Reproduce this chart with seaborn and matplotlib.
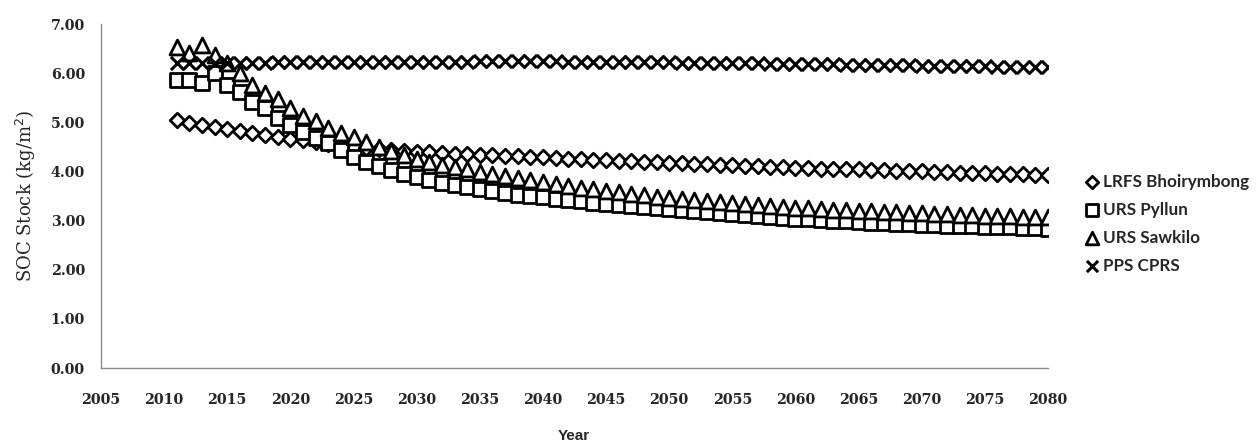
import matplotlib
matplotlib.use("Agg")
import matplotlib.pyplot as plt
import seaborn as sns
import pandas as pd

years = list(range(2011, 2081))

lrfs_bhoirymbong = [5.05, 4.98, 4.95, 4.90, 4.86, 4.82, 4.78, 4.74, 4.70, 4.67,
                    4.64, 4.60, 4.56, 4.52, 4.49, 4.47, 4.45, 4.43, 4.42, 4.40,
                    4.39, 4.37, 4.36, 4.35, 4.34, 4.33, 4.32, 4.31, 4.30, 4.29,
                    4.28, 4.26, 4.25, 4.24, 4.23, 4.22, 4.21, 4.20, 4.19, 4.18,
                    4.17, 4.16, 4.15, 4.14, 4.13, 4.12, 4.11, 4.10, 4.09, 4.08,
                    4.07, 4.06, 4.05, 4.05, 4.04, 4.03, 4.02, 4.01, 4.00, 4.00,
                    3.99, 3.98, 3.97, 3.97, 3.96, 3.95, 3.95, 3.94, 3.93, 3.93]

urs_pyllun = [5.86, 5.86, 5.80, 6.00, 5.76, 5.62, 5.41, 5.29, 5.09, 4.95,
              4.80, 4.68, 4.58, 4.44, 4.30, 4.20, 4.11, 4.03, 3.95, 3.88,
              3.82, 3.77, 3.72, 3.68, 3.64, 3.60, 3.57, 3.53, 3.50, 3.47,
              3.44, 3.41, 3.39, 3.36, 3.34, 3.32, 3.30, 3.28, 3.26, 3.24,
              3.22, 3.20, 3.18, 3.16, 3.14, 3.12, 3.10, 3.08, 3.06, 3.04,
              3.03, 3.01, 3.00, 2.99, 2.97, 2.96, 2.95, 2.94, 2.93, 2.92,
              2.91, 2.90, 2.89, 2.88, 2.87, 2.86, 2.86, 2.85, 2.84, 2.83]

urs_sawkilo = [6.53, 6.41, 6.57, 6.37, 6.20, 6.00, 5.76, 5.60, 5.47, 5.29,
               5.13, 5.03, 4.88, 4.78, 4.70, 4.60, 4.50, 4.42, 4.34, 4.26,
               4.20, 4.14, 4.09, 4.04, 3.99, 3.94, 3.90, 3.86, 3.82, 3.78,
               3.74, 3.70, 3.67, 3.64, 3.61, 3.58, 3.55, 3.52, 3.49, 3.46,
               3.44, 3.42, 3.40, 3.38, 3.36, 3.34, 3.32, 3.30, 3.28, 3.26,
               3.25, 3.24, 3.22, 3.21, 3.20, 3.19, 3.18, 3.17, 3.16, 3.15,
               3.14, 3.13, 3.12, 3.11, 3.10, 3.09, 3.09, 3.08, 3.08, 3.07]

pps_cprs = [6.20, 6.20, 6.20, 6.21, 6.21, 6.21, 6.21, 6.21, 6.22, 6.22,
            6.22, 6.22, 6.22, 6.22, 6.22, 6.22, 6.23, 6.23, 6.23, 6.23,
            6.23, 6.23, 6.23, 6.23, 6.24, 6.24, 6.24, 6.24, 6.24, 6.24,
            6.24, 6.23, 6.23, 6.23, 6.23, 6.23, 6.22, 6.22, 6.22, 6.22,
            6.21, 6.21, 6.21, 6.21, 6.20, 6.20, 6.20, 6.19, 6.19, 6.19,
            6.18, 6.18, 6.18, 6.17, 6.17, 6.17, 6.16, 6.16, 6.16, 6.15,
            6.15, 6.15, 6.14, 6.14, 6.14, 6.13, 6.13, 6.13, 6.12, 6.12]

series_names = ["LRFS Bhoirymbong", "URS Pyllun", "URS Sawkilo", "PPS CPRS"]
x_ticks = list(range(2005, 2081, 5))
y_ticks = [0, 1, 2, 3, 4, 5, 6, 7]

sns.set_theme(style="white")
plt.rcParams['font.family'] = ['DejaVu Sans']

fig = plt.figure(figsize=(12.59, 4.45), dpi=100)
ax = fig.add_axes([0.0802, 0.173, 0.7522, 0.773])

data = [lrfs_bhoirymbong, urs_pyllun, urs_sawkilo, pps_cprs]
markers = ["D", "s", "^", "x"]
sizes = [55, 105, 115, 90]

for name, vals, m, s in zip(series_names, data, markers, sizes):
    df = pd.DataFrame({"Year": years, "SOC": vals})
    if m == "x":
        sns.scatterplot(data=df, x="Year", y="SOC", marker=m, s=s, color="black",
                        linewidth=2.2, ax=ax, label=name, zorder=3)
    else:
        sns.scatterplot(data=df, x="Year", y="SOC", marker=m, s=s, facecolor="white",
                        edgecolor="black", linewidth=2.0, ax=ax, label=name, zorder=3)

ax.set_xlim(2005, 2080)
ax.set_ylim(0, 7)
ax.set_xticks(x_ticks)
ax.set_yticks(y_ticks)
ax.set_yticklabels([f"{v:.2f}" for v in y_ticks])
ax.tick_params(axis="both", length=0)
ax.tick_params(axis="y", pad=11.5)
ax.tick_params(axis="x", pad=18)
for lab in ax.get_xticklabels() + ax.get_yticklabels():
    lab.set_family("DejaVu Serif")
    lab.set_fontweight("bold")
    lab.set_fontsize(10.3)

for side in ["top", "right"]:
    ax.spines[side].set_visible(False)
for side in ["left", "bottom"]:
    ax.spines[side].set_color("#8c8c8c")
    ax.spines[side].set_linewidth(1.0)

ax.set_ylabel("SOC Stock (kg/m$^2$)", family="DejaVu Serif", fontsize=13, labelpad=9)
ax.set_xlabel("")
fig.text(0.456, 0.004, "Year", family="Liberation Sans", fontweight="bold", fontsize=11,
         ha="center", va="bottom")

handles, labels = ax.get_legend_handles_labels()
if ax.legend_:
    ax.legend_.remove()
leg = fig.legend(handles, labels, loc="center left", bbox_to_anchor=(0.862, 0.497),
                 frameon=False, handlelength=0.8, handletextpad=0.25, labelspacing=0.7,
                 markerscale=0.85, borderaxespad=0, borderpad=0,
                 prop={"family": "Lato", "weight": "bold", "size": 12.3})

fig.savefig("out.png", dpi=100)
